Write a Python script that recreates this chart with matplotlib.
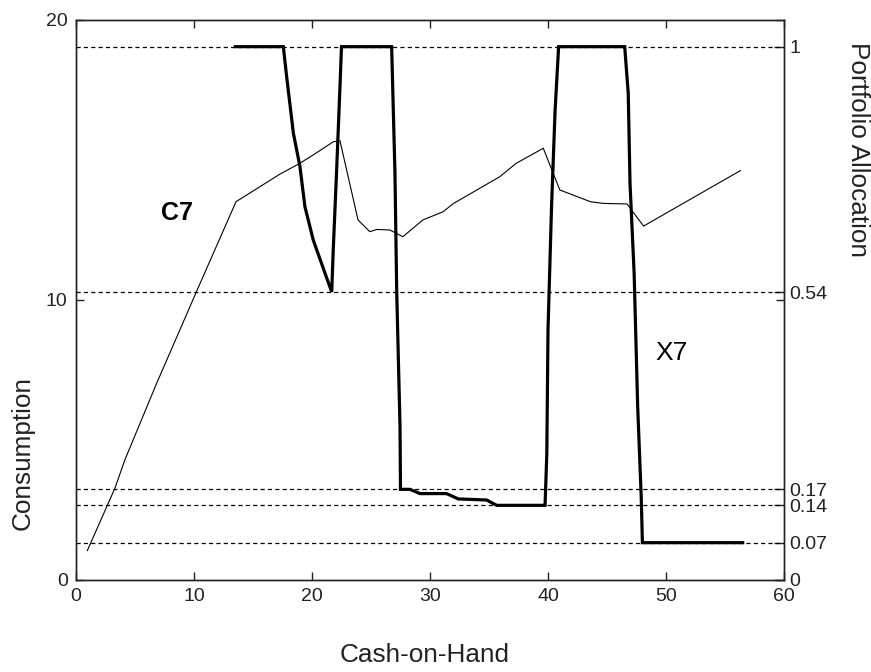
import numpy as np
from matplotlib import pyplot as plt

# Consumption policy (left axis)
cashC = [0.96, 3.3, 4.15, 6.84, 8.8, 10.2, 13.56, 17.3, 18.84, 20.1, 21.8, 22.37,
         23.9, 24.9, 25.5, 26.6, 27.7, 29.4, 31.1, 32.0, 35.9, 37.3, 39.6, 41.0,
         43.6, 44.7, 46.7, 48.1, 56.3]
consumption = [1.05, 3.28, 4.3, 7.03, 8.93, 10.29, 13.51, 14.5, 14.85, 15.18, 15.65, 15.69,
               12.86, 12.44, 12.52, 12.5, 12.26, 12.86, 13.15, 13.45, 14.4, 14.88, 15.42, 13.93,
               13.51, 13.45, 13.43, 12.64, 14.62]

# Portfolio allocation policy (right axis)
cashX = [13.5, 17.57, 17.85, 18.42, 18.98, 19.4, 20.1, 20.4, 21.67, 21.8, 22.1, 22.37,
         22.5, 26.75, 27.03, 27.18, 27.46, 27.5, 28.3, 29.15, 31.4, 32.4, 34.8, 35.65,
         39.75, 39.9, 40.0, 40.3, 40.6, 40.9, 46.5, 46.8, 46.95, 47.3, 47.6, 47.9,
         48.0, 56.5]
allocation = [1, 1, 0.944, 0.838, 0.775, 0.70, 0.638, 0.619, 0.54, 0.619, 0.775, 0.925,
              1, 1, 0.763, 0.54, 0.287, 0.17, 0.17, 0.162, 0.162, 0.152, 0.15, 0.14,
              0.14, 0.2375, 0.469, 0.70, 0.88, 1, 1, 0.9125, 0.744, 0.575, 0.325, 0.156,
              0.07, 0.07]

# Reference allocation levels
levels = [1, 0.54, 0.17, 0.14, 0.07]
levelLabels = ['1', '0.54', '0.17', '0.14', '0.07']

plt.rcParams['font.family'] = 'Liberation Sans'
plt.rcParams['lines.scale_dashes'] = False

fig = plt.figure(figsize=(8.71, 6.72), dpi=100)
ax = fig.add_axes([76/871, 1 - 580/672, 708/871, 560/672])
ax2 = ax.twinx()

ax.plot(cashC, consumption, color='black', linewidth=0.8)
ax.set_xlim(0, 60)
ax.set_ylim(0, 20)
ax.set_xticks(np.arange(0, 70, 10))
ax.set_yticks([0, 10, 20])
ax.tick_params(direction='in', length=6, width=1, labelsize=14, pad=6,
               top=True, right=True, labelright=False, colors='#222222')

for lev in levels:
    ax2.axhline(lev, color='black', linewidth=0.9, linestyle=(0, (3, 2.3)))
ax2.plot(cashX, allocation, color='black', linewidth=2.3, solid_joinstyle='miter')
ax2.set_ylim(0, 1.05)
ax2.set_yticks([0] + levels)
ax2.set_yticklabels(['0'] + levelLabels)
ax2.tick_params(direction='in', length=7, width=1, labelsize=14, pad=4, colors='#222222')

for a in (ax, ax2):
    for s in a.spines.values():
        s.set_color('#222222')
        s.set_linewidth(1)

ax.text(8.6, 13.1, 'C7', fontsize=18, fontweight='bold', ha='center', va='center')
ax.text(50.5, 8.1, 'X7', fontsize=19, ha='center', va='center')

fig.text(23/871, 1 - 453/672, 'Consumption', rotation=90, fontsize=18.8,
         ha='center', va='center', color='#222222')
fig.text(858/871, 1 - 150/672, 'Portfolio Allocation', rotation=-90, fontsize=18.8,
         ha='center', va='center', color='#222222')
fig.text(425/871, 1 - 655/672, 'Cash-on-Hand', fontsize=18.8,
         ha='center', va='center', color='#222222')

plt.savefig('out.png', dpi=100)
